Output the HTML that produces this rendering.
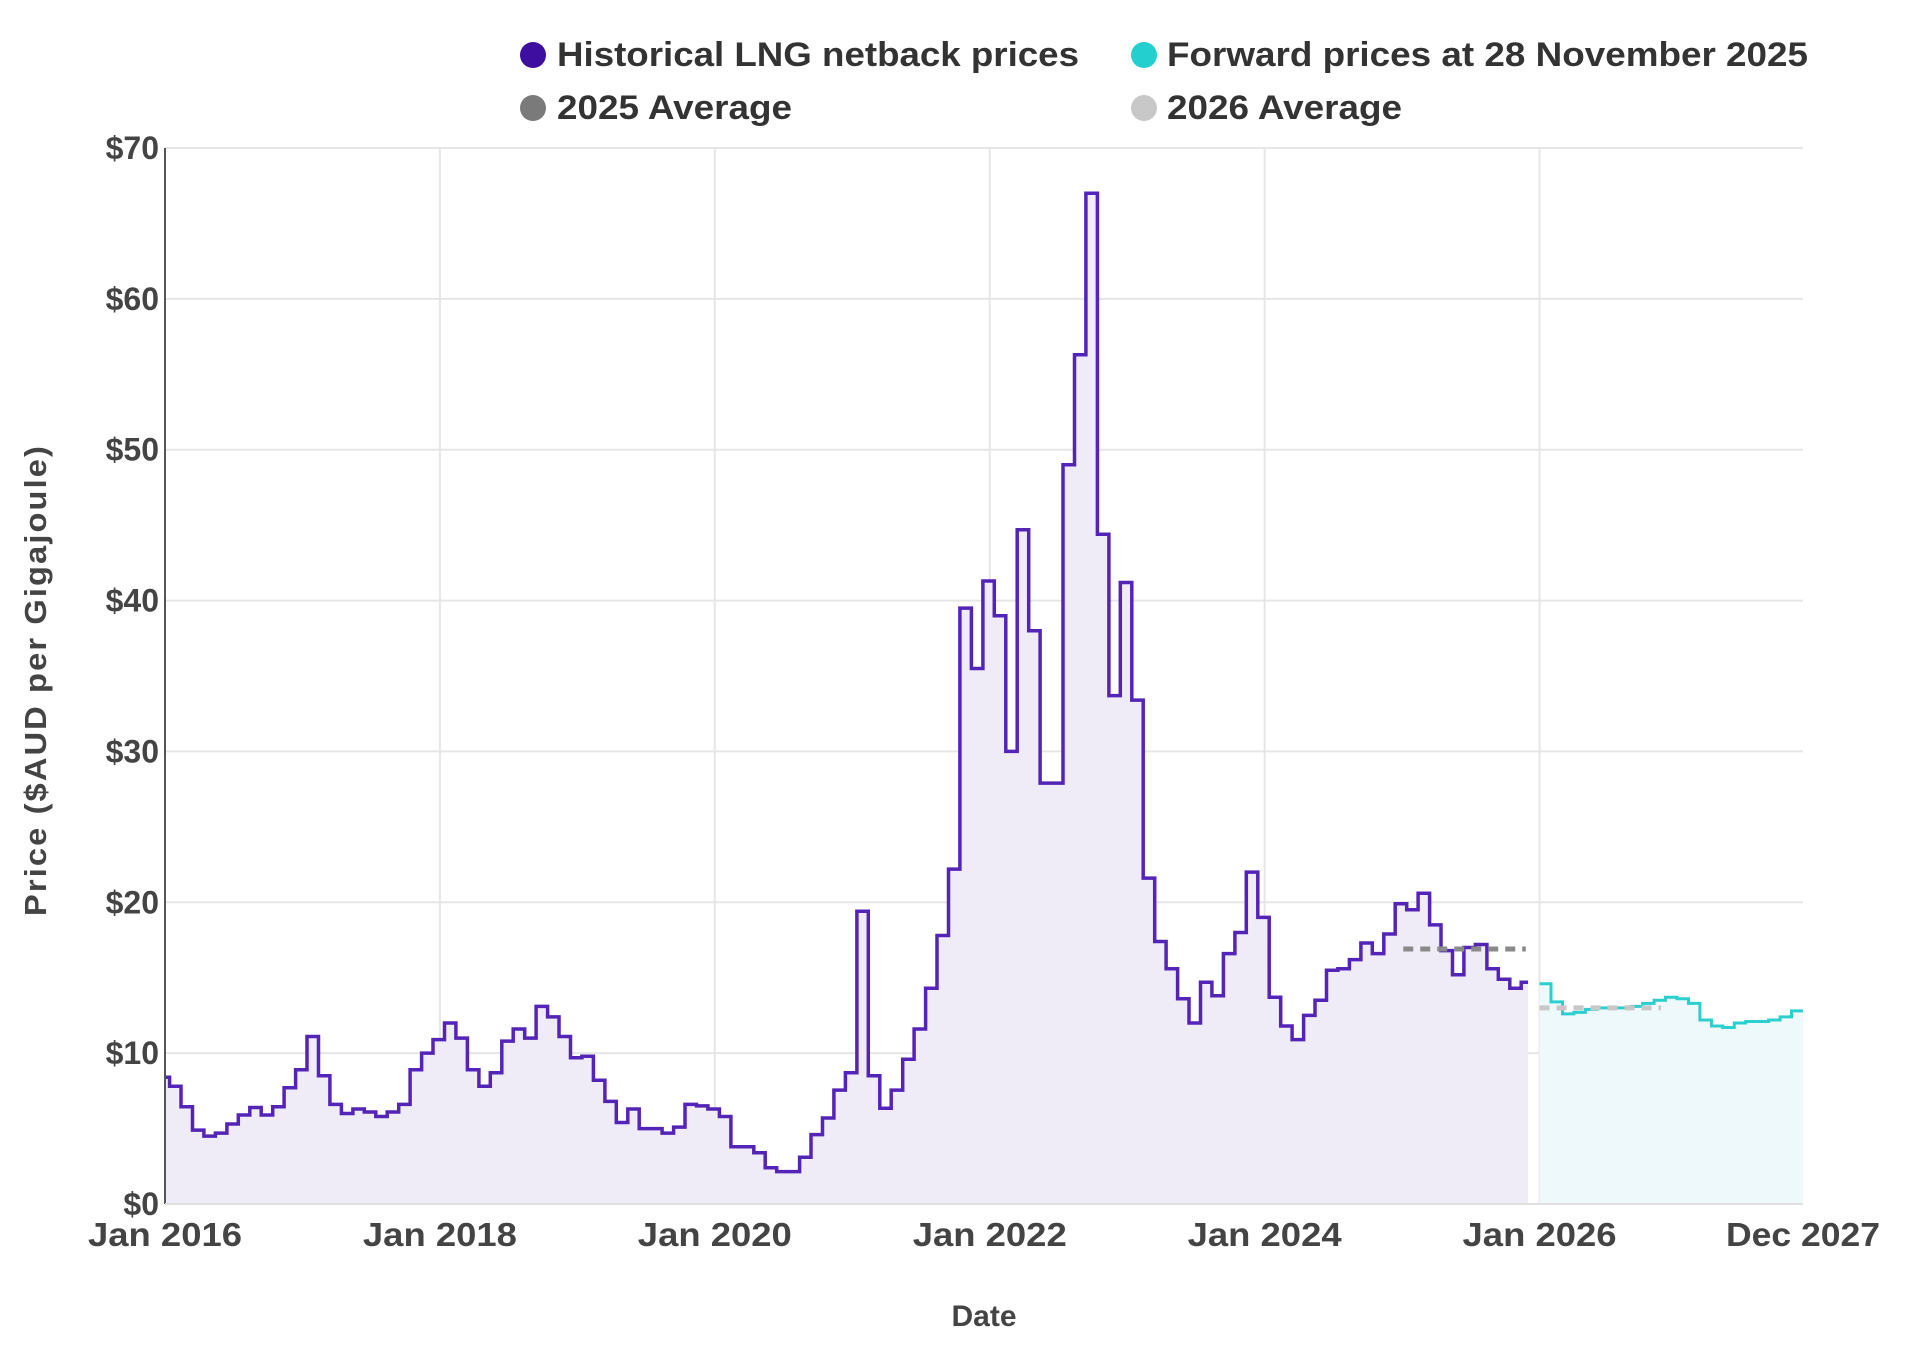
<!DOCTYPE html>
<html><head><meta charset="utf-8"><style>
html,body{margin:0;padding:0;background:#fff;}
svg{display:block;font-family:"Liberation Sans",Arial,sans-serif;}
</style></head><body>
<svg id="chart" width="1923" height="1355" viewBox="0 0 1923 1355" xmlns="http://www.w3.org/2000/svg">
<g id="grid"></g>
<g id="fills"></g>
<g id="lines"></g>
<g id="axes"></g>
<g id="legend">
  <circle cx="533" cy="55" r="13" fill="#3d0ea0"/>
  <text x="557" y="66" font-size="34" font-weight="bold" fill="#333" textLength="522" lengthAdjust="spacingAndGlyphs">Historical LNG netback prices</text>
  <circle cx="1144" cy="55" r="13" fill="#24cfd0"/>
  <text x="1167" y="66" font-size="34" font-weight="bold" fill="#333" textLength="641" lengthAdjust="spacingAndGlyphs">Forward prices at 28 November 2025</text>
  <circle cx="533" cy="108" r="13" fill="#7a7a7a"/>
  <text x="557" y="119" font-size="34" font-weight="bold" fill="#333" textLength="235" lengthAdjust="spacingAndGlyphs">2025 Average</text>
  <circle cx="1144" cy="108" r="13" fill="#c8c8c8"/>
  <text x="1167" y="119" font-size="34" font-weight="bold" fill="#333" textLength="235" lengthAdjust="spacingAndGlyphs">2026 Average</text>
</g>
<text x="984" y="1326" text-anchor="middle" font-size="30" font-weight="bold" fill="#444">Date</text>
<text transform="translate(46,680) rotate(-90)" text-anchor="middle" font-size="31" font-weight="bold" fill="#444" letter-spacing="2" textLength="472" lengthAdjust="spacingAndGlyphs">Price ($AUD per Gigajoule)</text>
</svg>
<script>
const historical = [
 8.4,7.8,6.45,4.9,4.5,4.7,5.3,5.9,6.4,5.9,6.45,7.7,
 8.9,11.1,8.5,6.6,6.0,6.3,6.1,5.8,6.1,6.6,8.9,10.0,
 10.9,12.0,11.0,8.9,7.8,8.7,10.8,11.6,11.0,13.1,12.4,11.1,
 9.7,9.8,8.2,6.8,5.4,6.3,5.0,5.0,4.7,5.1,6.6,6.5,
 6.3,5.8,3.8,3.8,3.4,2.4,2.15,2.15,3.1,4.6,5.7,7.55,
 8.7,19.4,8.5,6.35,7.55,9.6,11.6,14.3,17.8,22.2,39.5,35.5,
 41.3,39.0,30.0,44.7,38.0,27.9,27.9,49.0,56.3,67.0,44.4,33.7,
 41.2,33.4,21.6,17.4,15.6,13.6,12.0,14.7,13.8,16.6,18.0,22.0,
 19.0,13.7,11.8,10.9,12.5,13.5,15.5,15.6,16.2,17.3,16.6,17.9,
 19.9,19.5,20.6,18.5,16.8,15.2,17.0,17.2,15.6,14.9,14.3,14.7
];
const forward = [14.6,13.4,12.6,12.7,12.9,13.0,13.0,13.0,13.1,13.3,13.5,13.7,
 13.6,13.3,12.2,11.8,11.7,12.0,12.1,12.1,12.2,12.4,12.8,12.9];
const avg2025 = [16.9];
const avg2026 = [13.0];
const yTicks = [0,10,20,30,40,50,60,70];
const yTickLabels = ["$0","$10","$20","$30","$40","$50","$60","$70"];
const xTickMonths = [0,24,48,72,96,120,143];
const xTickLabels = ["Jan 2016","Jan 2018","Jan 2020","Jan 2022","Jan 2024","Jan 2026","Dec 2027"];

const L=165,R=1803,T=148,B=1204,MAXM=143,MAXV=70;
const x=m=>L+(m/MAXM)*(R-L);
const y=v=>B-(v/MAXV)*(B-T);
const NS="http://www.w3.org/2000/svg";
function mk(parent,tag,attrs){const e=document.createElementNS(NS,tag);for(const k in attrs)e.setAttribute(k,attrs[k]);parent.appendChild(e);return e;}
const grid=document.getElementById('grid'),fills=document.getElementById('fills'),lines=document.getElementById('lines'),axes=document.getElementById('axes');

yTicks.forEach((v,i)=>{
  const g=mk(grid,'line',{x1:L,x2:R,y1:y(v),y2:y(v),stroke:'#e6e6e6','stroke-width':2});
  
  
  const t=mk(axes,'text',{x:L-6,y:y(v)+11,'text-anchor':'end','font-size':32,'font-weight':'bold',fill:'#444'});
  t.textContent=yTickLabels[i];
  
  
});
xTickMonths.forEach((m,i)=>{
  if(m>0&&m<MAXM){
    const g=mk(grid,'line',{x1:x(m),x2:x(m),y1:T,y2:B,stroke:'#e6e6e6','stroke-width':2});
    
    
  }
  const t=mk(axes,'text',{x:x(m),y:B+42,'text-anchor':'middle','font-size':33,'font-weight':'bold',fill:'#444',textLength:154,lengthAdjust:'spacingAndGlyphs'});
  t.textContent=xTickLabels[i];
  
  
});

let hp=[],endH=119;
historical.forEach((v,k)=>{
  const s=Math.max(0,k-0.6), e=Math.min(endH,k+0.4);
  hp.push([x(s),y(v)],[x(e),y(v)]);
});
const hLine='M'+hp.map(p=>p[0].toFixed(1)+','+p[1].toFixed(1)).join('L');
const hf=mk(fills,'path',{d:hLine+`L${x(endH)},${B}L${x(0)},${B}Z`,fill:'#efecf7'});


const hl=mk(lines,'path',{d:hLine,fill:'none',stroke:'#5424b8','stroke-width':3.5});



let fp=[];
forward.forEach((v,k)=>{
  const s=120+k, e=Math.min(MAXM,121+k);
  if(s<MAXM) fp.push([x(s),y(v)],[x(e),y(v)]);
});
const fLine='M'+fp.map(p=>p[0].toFixed(1)+','+p[1].toFixed(1)).join('L');
const ff=mk(fills,'path',{d:fLine+`L${x(MAXM)},${B}L${x(120)},${B}Z`,fill:'#edf9fa'});


const fl=mk(lines,'path',{d:fLine,fill:'none',stroke:'#2ccfd0','stroke-width':3});



const a1=mk(lines,'line',{x1:x(108.1),x2:x(118.8),y1:y(avg2025[0]),y2:y(avg2025[0]),stroke:'#8a8a8a','stroke-width':5,'stroke-dasharray':'10 7'});


const a2=mk(lines,'line',{x1:x(120),x2:x(130.6),y1:y(avg2026[0]),y2:y(avg2026[0]),stroke:'#c8c8c8','stroke-width':5,'stroke-dasharray':'10 7'});



const ya=mk(axes,'line',{x1:L,x2:L,y1:T,y2:B,stroke:'#555','stroke-width':2});


const xa=mk(axes,'line',{x1:L,x2:R,y1:B,y2:B,stroke:'#e0e0e0','stroke-width':2});


</script>
</body></html>
